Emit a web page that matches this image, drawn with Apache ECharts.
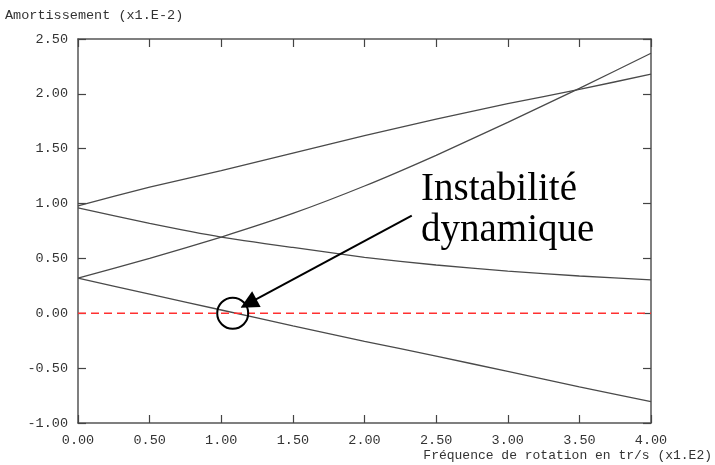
<!doctype html>
<html lang="fr">
<head>
    <meta charset="UTF-8">
    <title>Amortissement</title>
    <style>
        html, body { margin: 0; padding: 0; background: #fff; }
        #main { width: 715px; height: 465px; }
    </style>
</head>
<body>
<div id="main"></div>
<script type="text/javascript" src="https://cdn.jsdelivr.net/npm/echarts@6/dist/echarts.min.js"></script>
<script type="text/javascript">
    // frequences (x1.E2 tr/s)
    let freq = [0, 0.5, 1.0, 1.5, 2.0, 2.5, 3.0, 3.5, 4.0];
    // amortissements (x1.E-2)
    let mode1 = [0.98, 1.15, 1.30, 1.46, 1.62, 1.77, 1.91, 2.04, 2.18];
    let mode2 = [0.96, 0.82, 0.695, 0.60, 0.51, 0.44, 0.385, 0.34, 0.305];
    let mode3 = [0.32, 0.50, 0.695, 0.91, 1.16, 1.44, 1.74, 2.05, 2.37];
    let mode4 = [0.32, 0.175, 0.03, -0.115, -0.255, -0.39, -0.53, -0.67, -0.805];
    let zeroLine = [0, 0];
    let zeroFreq = [0, 4];
    let xTicks = ['0.00', '0.50', '1.00', '1.50', '2.00', '2.50', '3.00', '3.50', '4.00'];
    let yTicks = ['-1.00', '-0.50', '0.00', '0.50', '1.00', '1.50', '2.00', '2.50'];
    // point d'instabilite et fleche
    let instab = [1.08, 0];
    let arrowFrom = [2.33, 0.89];
    let arrowTo = [1.19, 0.09];

    let myChart = echarts.init(document.getElementById('main'));
    let mono = '"Liberation Mono", "DejaVu Sans Mono", monospace';

    function pairs(xs, ys) {
        return xs.map(function (x, i) { return [x, ys[i]]; });
    }
    function fmtX(v) {
        let s = v.toFixed(2);
        return xTicks.indexOf(s) >= 0 ? s : '';
    }
    function fmtY(v) {
        let s = v.toFixed(2);
        return yTicks.indexOf(s) >= 0 ? s : '';
    }

    let axisLine = {show: true, onZero: false, lineStyle: {color: '#555', width: 1.5}};
    let axisTick = {show: true, inside: true, length: 8, lineStyle: {color: '#444', width: 1.2}};

    let lineStyle = {color: '#4a4a4a', width: 1.3};
    let curves = [mode1, mode2, mode3, mode4].map(function (m) {
        return {
            type: 'line',
            data: pairs(freq, m),
            showSymbol: false,
            smooth: 0.15,
            lineStyle: lineStyle,
            silent: true
        };
    });

    let option = {
        backgroundColor: '#fff',
        animation: false,
        grid: {left: 78, right: 64, top: 39, bottom: 42},
        xAxis: [{
            type: 'value', min: 0, max: 4, interval: 0.5,
            axisLine: axisLine, axisTick: axisTick, splitLine: {show: false},
            axisLabel: {formatter: fmtX, margin: 10, color: '#333', fontFamily: mono, fontSize: 13.5}
        }, {
            type: 'value', position: 'top', min: 0, max: 4, interval: 0.5,
            axisLine: axisLine, axisTick: axisTick, splitLine: {show: false},
            axisLabel: {show: false}
        }],
        yAxis: [{
            type: 'value', min: -1, max: 2.5, interval: 0.5,
            axisLine: axisLine, axisTick: axisTick, splitLine: {show: false},
            axisLabel: {formatter: fmtY, margin: 10, color: '#333', fontFamily: mono, fontSize: 13.5}
        }, {
            type: 'value', position: 'right', min: -1, max: 2.5, interval: 0.5,
            axisLine: axisLine, axisTick: axisTick, splitLine: {show: false},
            axisLabel: {show: false}
        }],
        series: curves.concat([{
            type: 'line',
            data: pairs(zeroFreq, zeroLine),
            showSymbol: false,
            silent: true,
            lineStyle: {color: '#ff3030', width: 1.5, type: [8, 5]},
            markPoint: {
                silent: true,
                symbol: 'circle',
                symbolSize: 31,
                itemStyle: {color: 'rgba(0,0,0,0)', borderColor: '#000', borderWidth: 2},
                label: {show: false},
                data: [{coord: instab}]
            },
            markLine: {
                silent: true,
                symbol: ['none', 'triangle'],
                symbolSize: 18,
                label: {show: false},
                lineStyle: {color: '#000', width: 2, type: 'solid'},
                data: [[{coord: arrowFrom}, {coord: arrowTo}]]
            }
        }]),
        graphic: [{
            type: 'text', left: 5, top: 8,
            style: {text: 'Amortissement (x1.E-2)', fill: '#333', font: '13.5px ' + mono}
        }, {
            type: 'text', right: 3, top: 449,
            style: {text: 'Fréquence de rotation en tr/s (x1.E2)', fill: '#333', font: '13px ' + mono}
        }, {
            type: 'text', left: 421, top: 169,
            style: {
                text: 'Instabilité\ndynamique',
                fill: '#000',
                font: '39px "Liberation Serif", "DejaVu Serif", serif',
                lineHeight: 41
            }
        }]
    };
    myChart.setOption(option);
</script>
</body>
</html>
